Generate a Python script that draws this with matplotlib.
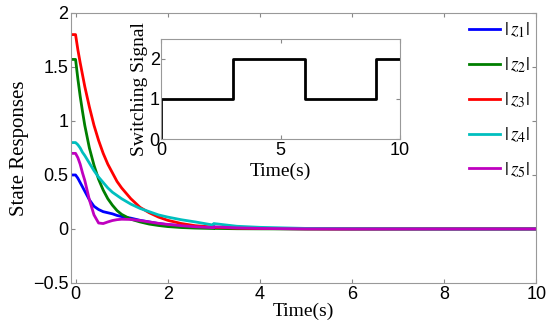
#!/usr/bin/env python3
## state responses |z_i| of the switched delay system, with the switching signal as an inset
import matplotlib
matplotlib.use('Agg')
import matplotlib.pyplot as plt

# time samples (history on [-0.1, 0], switch at t = 3 gives a small jump)
t  = [-0.1, 0.0, 0.05, 0.1, 0.15, 0.2, 0.3, 0.4, 0.5, 0.6, 0.7, 0.8, 0.9, 1.0,
      1.2, 1.4, 1.6, 1.8, 2.0, 2.3, 2.6, 3.0, 3.0, 3.5, 4.0, 5.0, 6.0, 8.0, 10.0]
z1 = [0.5, 0.5, 0.47, 0.43, 0.39, 0.35, 0.27, 0.21, 0.18, 0.16, 0.15, 0.14, 0.125, 0.115,
      0.10, 0.08, 0.065, 0.05, 0.04, 0.03, 0.02, 0.012, 0.015, 0.008, 0.004, 0.001, 0.0, 0.0, 0.0]
z2 = [1.57, 1.57, 1.39, 1.23, 1.09, 0.96, 0.75, 0.59, 0.46, 0.36, 0.28, 0.22, 0.17, 0.135,
      0.09, 0.065, 0.045, 0.032, 0.022, 0.013, 0.008, 0.004, 0.005, 0.002, 0.001, 0.0, 0.0, 0.0, 0.0]
z3 = [1.8, 1.8, 1.66, 1.54, 1.43, 1.32, 1.13, 0.96, 0.82, 0.70, 0.60, 0.52, 0.44, 0.38,
      0.28, 0.20, 0.15, 0.11, 0.08, 0.05, 0.03, 0.017, 0.015, 0.008, 0.004, 0.001, 0.0, 0.0, 0.0]
z4 = [0.8, 0.8, 0.78, 0.75, 0.71, 0.68, 0.61, 0.54, 0.48, 0.43, 0.38, 0.34, 0.31, 0.28,
      0.23, 0.19, 0.16, 0.13, 0.11, 0.085, 0.065, 0.035, 0.05, 0.025, 0.015, 0.005, 0.002, 0.0, 0.0]
z5 = [0.7, 0.7, 0.66, 0.60, 0.52, 0.45, 0.27, 0.13, 0.055, 0.05, 0.065, 0.078, 0.086, 0.09,
      0.088, 0.078, 0.065, 0.052, 0.042, 0.03, 0.02, 0.012, 0.02, 0.01, 0.005, 0.001, 0.0, 0.0, 0.0]
labels = ['$|\\,z_1|$', '$|\\,z_2|$', '$|\\,z_3|$', '$|\\,z_4|$', '$|\\,z_5|$']
colors = ['#0000ff', '#007f00', '#ff0000', '#00bfbf', '#bf00bf']

# switching signal sigma(t)
ts  = [0, 0, 3, 3, 6, 6, 9, 9, 10]
sig = [0, 1, 1, 2, 2, 1, 1, 2, 2]

plt.rcParams['mathtext.fontset'] = 'stix'
plt.rcParams['font.family'] = 'Liberation Sans'
serif = 'Liberation Serif'

fig = plt.figure(figsize=(5.5, 3.29), dpi=100)
ax = fig.add_axes([0.129, 0.14, 0.846, 0.8205])
for z, lab, col in zip([z1, z2, z3, z4, z5], labels, colors):
  ax.plot(t, z, color=col, lw=2, label=lab)
ax.set_xlim(-0.1, 10)
ax.set_ylim(-0.5, 2)
ax.set_xticks([0, 2, 4, 6, 8, 10])
ax.set_yticks([-0.5, 0, 0.5, 1, 1.5, 2])
ax.set_yticklabels(['\u22120.5', '0', '0.5', '1', '1.5', '2'])
ax.tick_params(direction='in', top=True, right=True, labelsize=13, length=3, pad=2, color='#888888')
for s in ax.spines.values():
  s.set_color('#999999')
ax.set_xlabel('Time(s)', family=serif, fontsize=14, labelpad=0)
ax.set_ylabel('State Responses', family=serif, fontsize=15, labelpad=3)
leg = ax.legend(loc='upper right', bbox_to_anchor=(1.004, 1.0), frameon=False, fontsize=14,
                handlelength=1.6, handletextpad=0.2, labelspacing=0.78, borderaxespad=0.0)

# inset with the switching signal
ins = fig.add_axes([0.293, 0.5775, 0.4345, 0.304])
ins.plot(ts, sig, color='k', lw=2)
ins.set_xlim(0, 10)
ins.set_ylim(0, 2.5)
ins.set_xticks([0, 5, 10])
ins.set_yticks([0, 1, 2])
ins.tick_params(axis='y', pad=1)
ins.tick_params(axis='x', pad=2.5)
ins.tick_params(direction='in', top=True, right=True, labelsize=13, length=3, color='#888888')
for s in ins.spines.values():
  s.set_color('#999999')
ins.set_xlabel('Time(s)', family=serif, fontsize=14, labelpad=2)
ins.set_ylabel('Switching Signal', family=serif, fontsize=14, labelpad=1)

plt.savefig('out.png', dpi=100)
